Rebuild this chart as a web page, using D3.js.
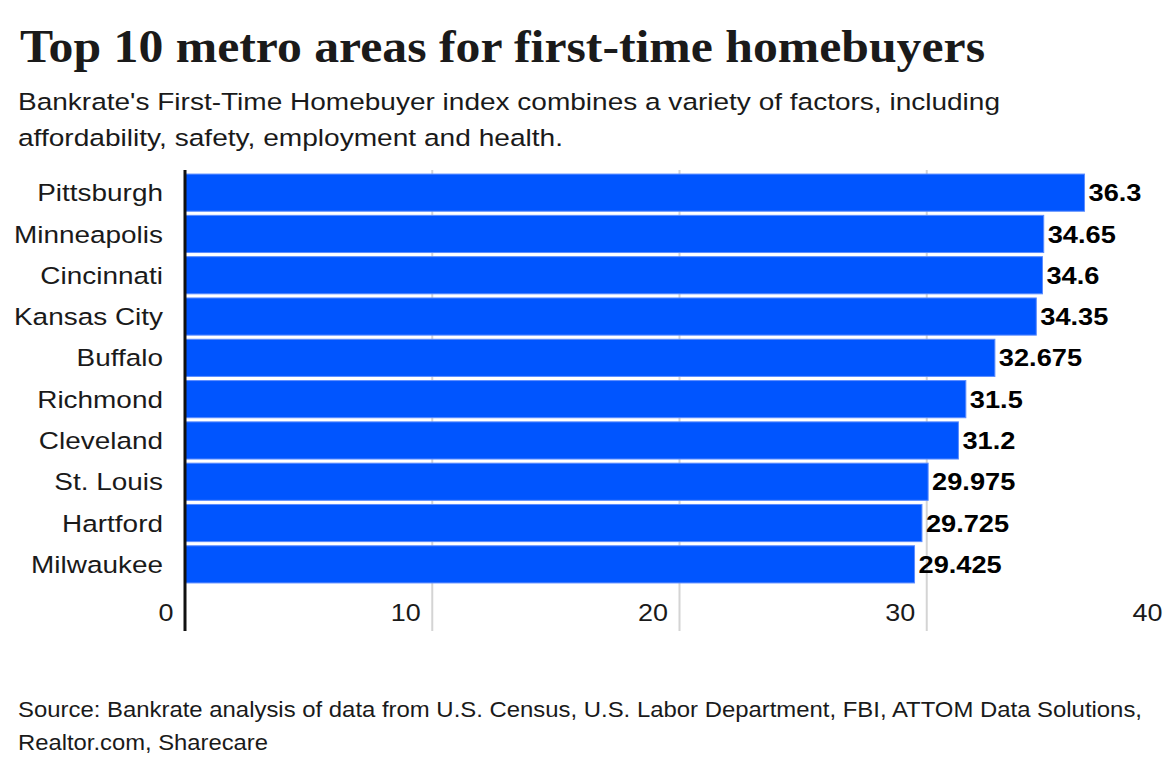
<!DOCTYPE html>
<html><head><meta charset="utf-8">
<script src="https://cdn.jsdelivr.net/npm/d3@7"></script>
<style>body{margin:0;background:#fff}svg{display:block}</style>
</head><body>
<script>
const categories = ["Pittsburgh","Minneapolis","Cincinnati","Kansas City","Buffalo","Richmond","Cleveland","St. Louis","Hartford","Milwaukee"];
const values = [36.3,34.65,34.6,34.35,32.675,31.5,31.2,29.975,29.725,29.425];
const valueLabels = ["36.3","34.65","34.6","34.35","32.675","31.5","31.2","29.975","29.725","29.425"];
const xTicks = [0,10,20,30,40];

const W=1174,H=774;
const svg=d3.select("body").append("svg").attr("width",W).attr("height",H);
const sans="'Liberation Sans', Arial, sans-serif";

function stretch(sel,factor){
  sel.each(function(){
    const w=this.getComputedTextLength();
    d3.select(this).attr("textLength",w*factor).attr("lengthAdjust","spacingAndGlyphs");
  });
}
function fitTo(sel,width){
  sel.attr("textLength",width).attr("lengthAdjust","spacingAndGlyphs");
}

const title=svg.append("text").attr("x",20).attr("y",62).attr("font-family","'Liberation Serif', 'DejaVu Serif', serif")
 .attr("font-weight","bold").attr("font-size",46).attr("fill","#1a1a1a").text("Top 10 metro areas for first-time homebuyers");
fitTo(title,965);

fitTo(svg.append("text").attr("x",18).attr("y",110).attr("font-family",sans).attr("font-size",24.5).attr("fill","#1a1a1a")
 .text("Bankrate's First-Time Homebuyer index combines a variety of factors, including"),982);
fitTo(svg.append("text").attr("x",18).attr("y",146).attr("font-family",sans).attr("font-size",24.5).attr("fill","#1a1a1a")
 .text("affordability, safety, employment and health."),545);

const x=d3.scaleLinear().domain([0,40]).range([185,1174]);
const y=d3.scaleBand().domain(categories).range([172,585]).paddingInner(0.1).paddingOuter(0.05);

// gridlines
svg.append("g").selectAll("line").data(xTicks.filter(d=>d>0&&d<40)).join("line")
 .attr("x1",d=>x(d)).attr("x2",d=>x(d)).attr("y1",170).attr("y2",631)
 .attr("stroke","#d4d4d4").attr("stroke-width",2);

svg.append("g").selectAll("rect").data(values).join("rect")
 .attr("x",x(0)).attr("y",(d,i)=>y(categories[i])).attr("width",d=>x(d)-x(0)+2).attr("height",y.bandwidth())
 .attr("fill","#0055ff").attr("stroke","#5c8dff").attr("stroke-width",1);

const cl=svg.append("g").selectAll("text").data(categories).join("text")
 .attr("x",163).attr("y",d=>y(d)+y.bandwidth()/2).attr("dy","0.35em").attr("text-anchor","end")
 .attr("font-family",sans).attr("font-size",24.5).attr("fill","#1a1a1a").text(d=>d);
stretch(cl,1.14);

const vl=svg.append("g").selectAll("text").data(values).join("text")
 .attr("x",d=>x(d)+6).attr("y",(d,i)=>y(categories[i])+y.bandwidth()/2).attr("dy","0.35em")
 .attr("font-family",sans).attr("font-weight","bold").attr("font-size",24.5).attr("fill","#000").text((d,i)=>valueLabels[i]);
stretch(vl,1.11);

// axis
const ax=svg.append("g").attr("transform","translate(0,612)")
 .call(d3.axisBottom(x).tickValues(xTicks).tickSize(0).tickFormat(d3.format("d")));
ax.select(".domain").remove();
ax.selectAll("text").attr("font-family",sans).attr("font-size",24.5).attr("fill","#1a1a1a")
 .attr("text-anchor","end").attr("dx",-12).attr("y",0).attr("dy","0.35em");
stretch(ax.selectAll("text"),1.1);

svg.append("line").attr("x1",x(0)).attr("x2",x(0)).attr("y1",170).attr("y2",631).attr("stroke","#111").attr("stroke-width",3);

fitTo(svg.append("text").attr("x",18).attr("y",717).attr("font-family",sans).attr("font-size",22).attr("fill","#1a1a1a")
 .text("Source: Bankrate analysis of data from U.S. Census, U.S. Labor Department, FBI, ATTOM Data Solutions,"),1124);
fitTo(svg.append("text").attr("x",18).attr("y",750).attr("font-family",sans).attr("font-size",22).attr("fill","#1a1a1a")
 .text("Realtor.com, Sharecare"),250);
</script>
</body></html>
